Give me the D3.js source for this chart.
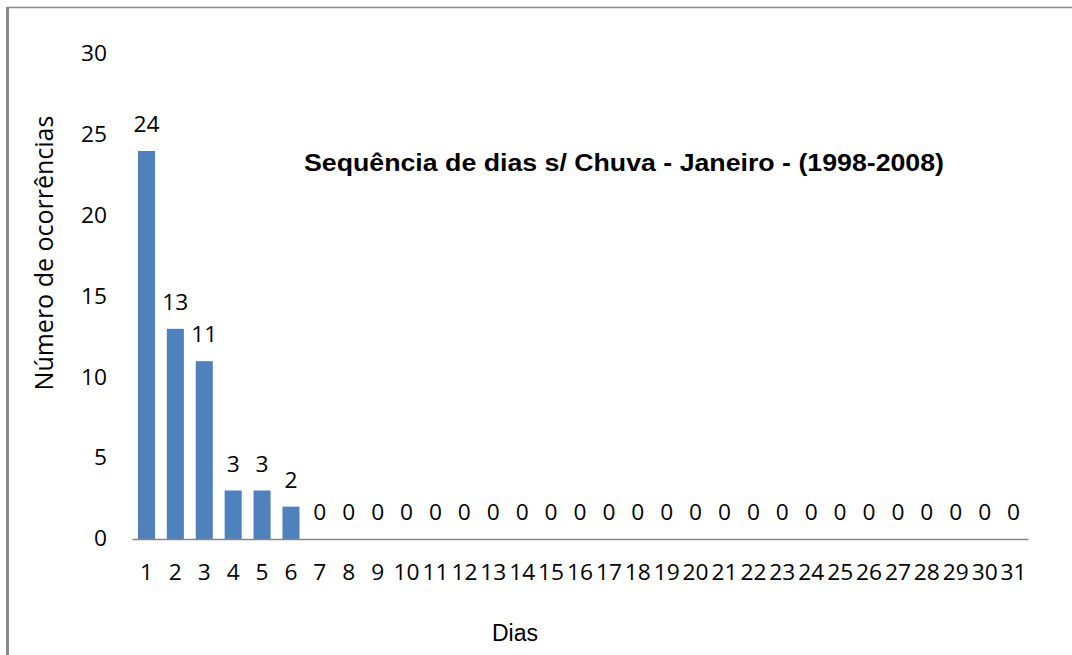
<!DOCTYPE html>
<html lang="pt">
<head>
<meta charset="UTF-8">
<title>Sequência de dias s/ Chuva</title>
<script src="https://d3js.org/d3.v7.min.js"></script>
<style>
  body { margin: 0; background: #fff; }
  svg { display: block; }
</style>
</head>
<body>
<div id="chart"></div>
<script>
// data
const dias = d3.range(1, 32).map(String);
const ocorrencias = [24, 13, 11, 3, 3, 2, 0, 0, 0, 0, 0, 0, 0, 0, 0, 0, 0, 0, 0, 0, 0, 0, 0, 0, 0, 0, 0, 0, 0, 0, 0];
const yTicks = [0, 5, 10, 15, 20, 25, 30];

const W = 1072, H = 655;
const margin = { top: 54, right: 44, bottom: 116, left: 132 };
const width = W - margin.left - margin.right;
const height = H - margin.top - margin.bottom;

const svg = d3.select("#chart").append("svg")
    .attr("width", W)
    .attr("height", H);

// outer frame (top + left only, like the cropped original)
svg.append("line")
    .attr("x1", 7).attr("x2", W).attr("y1", 7.5).attr("y2", 7.5)
    .attr("stroke", "#8a8a8a").attr("stroke-width", 1.5);
svg.append("line")
    .attr("x1", 7.5).attr("x2", 7.5).attr("y1", 7).attr("y2", H)
    .attr("stroke", "#8a8a8a").attr("stroke-width", 3);

const g = svg.append("g")
    .attr("transform", `translate(${margin.left},${margin.top})`);

const x = d3.scaleBand()
    .domain(dias)
    .range([0, width])
    .paddingInner(0.41)
    .paddingOuter(0.205);

const y = d3.scaleLinear()
    .domain([0, 30])
    .range([height, 0]);

const tickFont = "'Open Sans', 'Noto Sans', sans-serif";

// numbers in the original are a bit wider than Open Sans digits
function numText(sel) {
    sel.attr("font-family", tickFont)
        .attr("font-size", 21)
        .attr("fill", "#000")
        .attr("textLength", function () { return this.textContent.length * 13; })
        .attr("lengthAdjust", "spacingAndGlyphs");
}

// y tick labels (no axis line, no tick marks)
const yAxis = g.append("g")
    .call(d3.axisLeft(y).tickValues(yTicks).tickSize(0).tickPadding(25));
yAxis.select(".domain").remove();
yAxis.selectAll("text").call(numText);

// bars
g.selectAll("rect.bar")
    .data(ocorrencias)
    .join("rect")
    .attr("class", "bar")
    .attr("x", (d, i) => x(dias[i]))
    .attr("width", x.bandwidth())
    .attr("y", d => y(d))
    .attr("height", d => height - y(d))
    .attr("fill", "#4f81bd");

// value labels
g.selectAll("text.val")
    .data(ocorrencias)
    .join("text")
    .attr("class", "val")
    .attr("x", (d, i) => x(dias[i]) + x.bandwidth() / 2)
    .attr("y", d => y(d) - 19)
    .attr("text-anchor", "middle")
    .text(d => d)
    .call(numText);

// x axis
const xAxis = g.append("g")
    .attr("transform", `translate(0,${height})`)
    .call(d3.axisBottom(x).tickSize(0).tickPadding(26));
xAxis.select(".domain")
    .attr("stroke", "#868686")
    .attr("stroke-width", 1.5);
xAxis.selectAll("text").call(numText);

// axis titles
svg.append("text")
    .attr("transform", `translate(53,${253}) rotate(-90)`)
    .attr("text-anchor", "middle")
    .attr("font-family", tickFont)
    .attr("font-size", 25)
    .attr("fill", "#000")
    .text("Número de ocorrências");

svg.append("text")
    .attr("x", 515)
    .attr("y", 641)
    .attr("text-anchor", "middle")
    .attr("font-family", "'Liberation Sans', Arial, sans-serif")
    .attr("font-size", 23)
    .attr("fill", "#000")
    .text("Dias");

// chart title
svg.append("text")
    .attr("x", 624)
    .attr("y", 171)
    .attr("text-anchor", "middle")
    .attr("font-family", "'Liberation Sans', Arial, sans-serif")
    .attr("font-weight", "bold")
    .attr("font-size", 23)
    .attr("textLength", 640)
    .attr("lengthAdjust", "spacingAndGlyphs")
    .attr("fill", "#000")
    .text("Sequência de dias s/ Chuva - Janeiro - (1998-2008)");
</script>
</body>
</html>
